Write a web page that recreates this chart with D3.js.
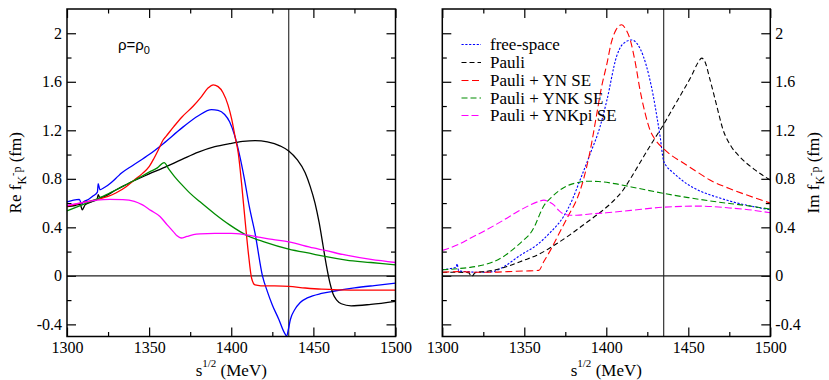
<!DOCTYPE html>
<html>
<head>
<meta charset="utf-8">
<script src="https://cdn.jsdelivr.net/npm/d3@7"></script>
<style>
  body { margin: 0; background: #fff; }
</style>
</head>
<body>
<svg id="chart" width="829" height="380"></svg>
<script>
// ─── Datos: parte real (panel izquierdo) ─────────────────────────────────────
const reFree = [[1300,0.61],[1304,0.625],[1307.5,0.63],[1309,0.59],[1310,0.61],[1313,0.63],[1316,0.66],[1318.5,0.69],[1319,0.76],[1320,0.71],[1323,0.73],[1327,0.77],[1331,0.82],[1333,0.845],[1340,0.91],[1350,1.0],[1358.6,1.09],[1370,1.22],[1380,1.32],[1388,1.37],[1392,1.365],[1396,1.33],[1399,1.27],[1402,1.16],[1405,1.0],[1408,0.8],[1411,0.57],[1414.5,0.35],[1419,0.0],[1422,-0.13],[1425,-0.24],[1429,-0.36],[1432,-0.46],[1433.8,-0.495],[1434.8,-0.44],[1436,-0.36],[1438.6,-0.28],[1442,-0.22],[1446.7,-0.18],[1455,-0.145],[1463,-0.125],[1475,-0.1],[1487,-0.08],[1500,-0.06]];
const rePauli = [[1300,0.57],[1305,0.58],[1308,0.59],[1309.3,0.545],[1311,0.585],[1315,0.61],[1318.3,0.63],[1319,0.67],[1320,0.645],[1330,0.71],[1340,0.78],[1350,0.84],[1358.6,0.89],[1370,0.96],[1380,1.02],[1390,1.065],[1399,1.09],[1407,1.108],[1414.5,1.115],[1422,1.105],[1430,1.07],[1435,1.03],[1440,0.96],[1445,0.85],[1448,0.74],[1451,0.6],[1453.5,0.44],[1456,0.24],[1458,0.08],[1460.1,-0.06],[1462,-0.15],[1464.2,-0.2],[1467,-0.23],[1473,-0.247],[1485,-0.235],[1500,-0.21]];
const reYN = [[1300,0.575],[1305,0.59],[1310,0.605],[1315,0.62],[1320,0.635],[1325,0.655],[1330,0.685],[1336,0.735],[1341,0.79],[1346,0.845],[1350,0.9],[1353,0.97],[1356,1.05],[1358.5,1.12],[1360.3,1.15],[1365,1.23],[1370,1.31],[1376.9,1.40],[1382,1.48],[1386,1.55],[1389,1.575],[1392,1.56],[1395,1.51],[1398,1.41],[1400.3,1.29],[1402.3,1.15],[1404.3,1.01],[1406.3,0.76],[1408.4,0.46],[1410.4,0.19],[1412.4,-0.02],[1414.5,-0.075],[1418,-0.082],[1425,-0.083],[1435,-0.087],[1445,-0.1],[1455,-0.11],[1465,-0.115],[1480,-0.117],[1500,-0.117]];
const reYNK = [[1300,0.535],[1310,0.59],[1320,0.645],[1324,0.67],[1330,0.71],[1340,0.78],[1346,0.825],[1350,0.855],[1355,0.89],[1359.1,0.934],[1362,0.88],[1366,0.81],[1370,0.75],[1375,0.68],[1381,0.61],[1390,0.51],[1399,0.42],[1410,0.33],[1420,0.28],[1435,0.22],[1450,0.18],[1457,0.16],[1470,0.13],[1485,0.11],[1500,0.09]];
const reYNKpi = [[1300,0.58],[1310,0.605],[1318,0.625],[1326,0.63],[1334,0.628],[1341,0.615],[1346,0.585],[1351,0.54],[1356.6,0.49],[1361,0.42],[1364.7,0.365],[1367,0.33],[1369.5,0.312],[1373,0.325],[1377,0.34],[1381,0.346],[1390,0.35],[1400,0.35],[1408,0.34],[1416.5,0.32],[1425,0.3],[1435,0.28],[1450,0.23],[1457,0.21],[1470,0.17],[1485,0.135],[1500,0.11]];

// ─── Datos: parte imaginaria (panel derecho) ─────────────────────────────────
const imFree = [[1300,0.05],[1305,0.06],[1308.5,0.07],[1309,0.1],[1310,0.04],[1315,0.035],[1320,0.03],[1325,0.03],[1331,0.035],[1338,0.08],[1347.6,0.17],[1357.7,0.255],[1366,0.36],[1374,0.49],[1379,0.62],[1384,0.79],[1390,1.0],[1396.2,1.23],[1400.4,1.45],[1406.3,1.81],[1410,1.91],[1415.5,1.945],[1419,1.91],[1422.6,1.81],[1426,1.65],[1428.7,1.48],[1431,1.3],[1432.8,1.15],[1434.8,0.956],[1436.9,0.9],[1440,0.86],[1449,0.76],[1457,0.70],[1467.3,0.65],[1480,0.6],[1490,0.57],[1500,0.544]];
const imPauli = [[1300,0.03],[1310,0.03],[1316,0.025],[1318,-0.005],[1320,0.025],[1325,0.035],[1331,0.045],[1340,0.08],[1350,0.13],[1357.7,0.17],[1368,0.25],[1378,0.34],[1388,0.44],[1396,0.52],[1403,0.6],[1410.4,0.71],[1416,0.83],[1422.6,0.98],[1428,1.1],[1434.8,1.245],[1441,1.39],[1447,1.53],[1452,1.65],[1456,1.76],[1458.2,1.795],[1460,1.77],[1463.2,1.62],[1467,1.42],[1471.3,1.2],[1476,1.07],[1481.5,0.98],[1490,0.88],[1500,0.79]];
const imYN = [[1300,0.03],[1310,0.035],[1320,0.03],[1330,0.03],[1340,0.035],[1350,0.04],[1358.8,0.045],[1362,0.12],[1365.9,0.21],[1372,0.37],[1377,0.5],[1382,0.63],[1386,0.79],[1390,1.02],[1394,1.32],[1397,1.55],[1400.4,1.75],[1403,1.92],[1406,2.03],[1409.4,2.07],[1412,2.03],[1414.5,1.95],[1417.5,1.77],[1420.6,1.53],[1423.5,1.35],[1426.7,1.2],[1430,1.12],[1434.8,1.05],[1440,0.99],[1447,0.93],[1455,0.86],[1463.2,0.79],[1475,0.72],[1487,0.66],[1500,0.6]];
const imYNK = [[1300,0.05],[1310,0.06],[1317,0.07],[1325,0.09],[1330,0.11],[1337.4,0.16],[1345,0.24],[1350,0.3],[1353.7,0.35],[1357,0.43],[1359.8,0.52],[1362,0.58],[1366,0.64],[1371,0.7],[1377.5,0.75],[1383,0.77],[1388.2,0.78],[1395,0.778],[1405,0.76],[1420,0.72],[1434.8,0.68],[1450,0.645],[1467.3,0.61],[1485,0.58],[1500,0.55]];
const imYNKpi = [[1300,0.21],[1310,0.26],[1317,0.31],[1327,0.38],[1337.4,0.46],[1346,0.53],[1353.7,0.585],[1358,0.61],[1362,0.624],[1365,0.61],[1368,0.585],[1371,0.54],[1374,0.51],[1378,0.5],[1382,0.5],[1390,0.51],[1400,0.52],[1415,0.54],[1434.8,0.566],[1457,0.575],[1475,0.56],[1490,0.54],[1500,0.52]];

// ─── Ejes y leyenda ──────────────────────────────────────────────────────────
const xMajor = [1300, 1350, 1400, 1450, 1500];
const xMinor = [1325, 1375, 1425, 1475];
const yMajor = [-0.4, 0, 0.4, 0.8, 1.2, 1.6, 2];
const yMinor = [-0.2, 0.2, 0.6, 1.0, 1.4, 1.8];
const markerS = 1435; // línea vertical
const legendLabels = ["free-space", "Pauli", "Pauli + YN SE", "Pauli + YNK SE", "Pauli + YNKpi SE"];

const STYLES = [
  { color: "#0000ff", dash: "2.2,1.6" },
  { color: "#000000", dash: "5,3" },
  { color: "#ff0000", dash: "7,3.5" },
  { color: "#008c00", dash: "6,3" },
  { color: "#ff00ff", dash: "7,3" },
];
const SERIF = "'Liberation Serif', 'Times New Roman', Times, 'DejaVu Serif', serif";

const svg = d3.select("#chart");
const plotTop = 9, plotBottom = 336.5;

const y = d3.scaleLinear().domain([-0.5, 2.2]).range([plotBottom, plotTop]);

function panel(x0, x1, series, dashed, side) {
  const x = d3.scaleLinear().domain([1300, 1500]).range([x0, x1]);
  const g = svg.append("g");
  const fmt = d => d === 0 ? "0" : String(+d.toFixed(1));

  // ticks hacia dentro en los cuatro lados
  const mk = (axis, tx, ty, vals, size, labels) => {
    const a = g.append("g").attr("transform", `translate(${tx},${ty})`)
      .call(axis.tickValues(vals).tickSize(-size).tickPadding(5)
        .tickFormat(labels ? fmt : () => ""));
    a.attr("font-family", null);
    a.select(".domain").remove();
    a.selectAll("line").attr("stroke", "#000").attr("stroke-width", 1.2);
    a.selectAll("text").attr("fill", "#000")
      .style("font-family", SERIF).style("font-size", "16px");
  };
  mk(d3.axisBottom(x), 0, plotBottom, xMajor, 9, true);
  mk(d3.axisBottom(x), 0, plotBottom, xMinor, 4.5, false);
  mk(d3.axisTop(x), 0, plotTop, xMajor, 9, false);
  mk(d3.axisTop(x), 0, plotTop, xMinor, 4.5, false);
  mk(d3.axisLeft(y), x0, 0, yMajor, 9, side === "left");
  mk(d3.axisLeft(y), x0, 0, yMinor, 4.5, false);
  mk(d3.axisRight(y), x1, 0, yMajor, 9, side === "right");
  mk(d3.axisRight(y), x1, 0, yMinor, 4.5, false);

  // líneas de referencia
  g.append("line").attr("x1", x0).attr("x2", x1).attr("y1", y(0)).attr("y2", y(0))
    .attr("stroke", "#222").attr("stroke-width", 1.1);
  g.append("line").attr("x1", x(markerS)).attr("x2", x(markerS)).attr("y1", plotTop).attr("y2", plotBottom)
    .attr("stroke", "#222").attr("stroke-width", 1.1);

  const line = d3.line().x(d => x(d[0])).y(d => y(d[1])).curve(d3.curveMonotoneX);
  series.forEach((s, i) => {
    g.append("path").datum(s)
      .attr("fill", "none")
      .attr("stroke", STYLES[i].color)
      .attr("stroke-width", dashed ? 1.1 : 1.3)
      .attr("stroke-dasharray", dashed ? STYLES[i].dash : null)
      .attr("d", line);
  });

  // marco
  g.append("rect").attr("x", x0).attr("y", plotTop).attr("width", x1 - x0).attr("height", plotBottom - plotTop)
    .attr("fill", "none").attr("stroke", "#000").attr("stroke-width", 1.5);

  // etiqueta del eje x
  const xl = g.append("text").attr("x", (x0 + x1) / 2).attr("y", 376)
    .attr("text-anchor", "middle").attr("fill", "#000")
    .style("font-family", SERIF).style("font-size", "17px");
  xl.append("tspan").text("s");
  xl.append("tspan").attr("dy", -9).style("font-size", "11px").text("1/2");
  xl.append("tspan").attr("dy", 9).text(" (MeV)");

  return x;
}

panel(67, 395.5, [reFree, rePauli, reYN, reYNK, reYNKpi], false, "left");
panel(442.3, 770.3, [imFree, imPauli, imYN, imYNK, imYNKpi], true, "right");

// etiquetas del eje y (rotadas)
function yLabel(cx, pre) {
  const t = svg.append("text")
    .attr("transform", `translate(${cx},${(plotTop + plotBottom) / 2}) rotate(-90)`)
    .attr("text-anchor", "middle").attr("fill", "#000")
    .style("font-family", SERIF).style("font-size", "17px");
  t.append("tspan").text(pre + " f");
  t.append("tspan").attr("dy", 5).style("font-size", "12px").text("K");
  t.append("tspan").attr("dy", -10).style("font-size", "10px").text("-");
  t.append("tspan").attr("dy", 5).style("font-size", "12px").text("p");
  t.append("tspan").attr("dy", 0).text(" (fm)");
}
yLabel(21, "Re");
yLabel(819, "Im");

// ρ=ρ0
const rho = svg.append("text").attr("x", 118).attr("y", 50).attr("fill", "#000")
  .style("font-family", "'Liberation Sans', Arial, sans-serif").style("font-size", "15px");
rho.append("tspan").text("ρ=ρ");
rho.append("tspan").attr("dy", 4).style("font-size", "11px").text("0");

// leyenda
const legendY = [44.5, 62.5, 80.5, 98, 115.5];
legendLabels.forEach((lab, i) => {
  svg.append("line").attr("x1", 461.5).attr("x2", 481).attr("y1", legendY[i]).attr("y2", legendY[i])
    .attr("stroke", STYLES[i].color).attr("stroke-width", 1.1)
    .attr("stroke-dasharray", STYLES[i].dash);
  svg.append("text").attr("x", 490).attr("y", legendY[i] + 5.5).attr("fill", "#000")
    .style("font-family", SERIF).style("font-size", "17px").text(lab);
});
</script>
</body>
</html>
